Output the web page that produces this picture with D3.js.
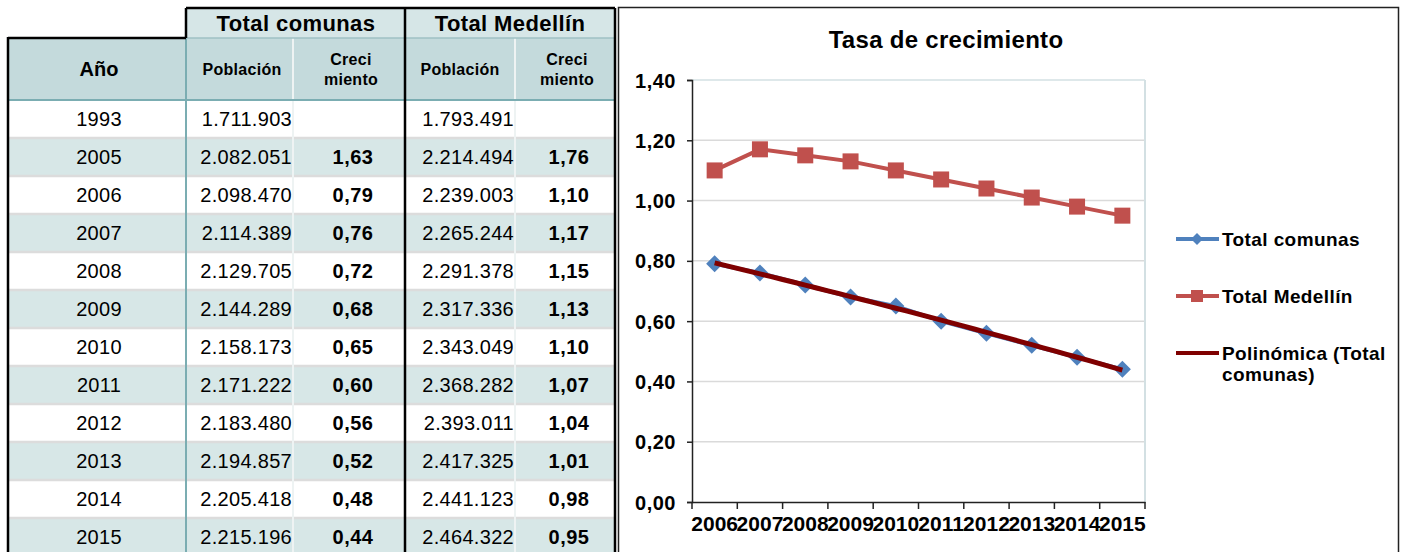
<!DOCTYPE html>
<meta charset="utf-8">
<script src="https://cdn.jsdelivr.net/npm/d3@7"></script>
<style>
body { margin: 0; background: #fff; }
text { font-family: "Liberation Sans", Arial, sans-serif; fill: #000; }
</style>
<body>
<script>

// table data
var tableYears = ["1993", "2005", "2006", "2007", "2008", "2009", "2010", "2011", "2012", "2013", "2014", "2015"];
var popComunas = [1711903, 2082051, 2098470, 2114389, 2129705, 2144289, 2158173, 2171222, 2183480, 2194857, 2205418, 2215196];
var growComunas = [null, 1.63, 0.79, 0.76, 0.72, 0.68, 0.65, 0.60, 0.56, 0.52, 0.48, 0.44];
var popMedellin = [1793491, 2214494, 2239003, 2265244, 2291378, 2317336, 2343049, 2368282, 2393011, 2417325, 2441123, 2464322];
var growMedellin = [null, 1.76, 1.10, 1.17, 1.15, 1.13, 1.10, 1.07, 1.04, 1.01, 0.98, 0.95];

// chart data
var chartYears = ["2006", "2007", "2008", "2009", "2010", "2011", "2012", "2013", "2014", "2015"];
var serieComunas = [0.79, 0.76, 0.72, 0.68, 0.65, 0.60, 0.56, 0.52, 0.48, 0.44];
var serieMedellin = [1.10, 1.17, 1.15, 1.13, 1.10, 1.07, 1.04, 1.01, 0.98, 0.95];
var yTicks = [0, 0.2, 0.4, 0.6, 0.8, 1.0, 1.2, 1.4];
var legendNames = ["Total comunas", "Total Medellín", "Polinómica (Total", "comunas)"];

var width = 1409, height = 552;

var es = d3.formatLocale({decimal: ",", thousands: ".", grouping: [3], currency: ["", ""]});
var fmtPop = es.format(",d"),
    fmtRate = es.format(".2f");

var svg = d3.select("body").append("svg")
    .attr("width", width)
    .attr("height", height);

// ---------- table ----------
var tbl = svg.append("g");
var rowY = d3.scaleBand().domain(tableYears).range([100, 100 + 38 * tableYears.length]);

// header backgrounds
tbl.append("rect").attr("x", 186).attr("y", 8).attr("width", 429).attr("height", 30).attr("fill", "#d6e6e7");
tbl.append("rect").attr("x", 8).attr("y", 38).attr("width", 607).attr("height", 62).attr("fill", "#c4dadc");

// body rows
tbl.selectAll(".row").data(tableYears).enter().append("rect")
    .attr("x", 8)
    .attr("y", function(d) { return rowY(d); })
    .attr("width", 607)
    .attr("height", rowY.bandwidth())
    .attr("fill", function(d, i) { return i % 2 ? "#d7e7e7" : "#fff"; });

tbl.selectAll(".sep").data(tableYears.slice(1)).enter().append("line")
    .attr("x1", 8).attr("x2", 615)
    .attr("y1", function(d) { return rowY(d); })
    .attr("y2", function(d) { return rowY(d); })
    .attr("stroke", "#dcdcdc").attr("stroke-width", 2.5);

// faint inner lines
[293, 515].forEach(function(x) {
  tbl.append("line").attr("x1", x).attr("x2", x).attr("y1", 38).attr("y2", height)
      .attr("stroke", "#eef3f3").attr("stroke-width", 2);
});

// teal lines
tbl.append("line").attr("x1", 186).attr("x2", 186).attr("y1", 38).attr("y2", height)
    .attr("stroke", "#7badb2").attr("stroke-width", 2);
tbl.append("line").attr("x1", 8).attr("x2", 615).attr("y1", 100).attr("y2", 100)
    .attr("stroke", "#7badb2").attr("stroke-width", 2);
tbl.append("line").attr("x1", 186).attr("x2", 615).attr("y1", 38).attr("y2", 38)
    .attr("stroke", "#9fc0c4").attr("stroke-width", 1.5);

// black borders
var blk = [[186, 8, 615, 8], [8, 38, 186, 38], [8, 37, 8, height], [186, 8, 186, 38],
           [405, 8, 405, height], [615, 8, 615, height]];
blk.forEach(function(l) {
  tbl.append("line").attr("x1", l[0]).attr("y1", l[1]).attr("x2", l[2]).attr("y2", l[3])
      .attr("stroke", "#000").attr("stroke-width", 2.5);
});

// header texts
tbl.append("text").attr("x", 296).attr("y", 31).attr("text-anchor", "middle")
    .style("font-size", "22px").style("font-weight", "bold").style("letter-spacing", "0.4px").text("Total comunas");
tbl.append("text").attr("x", 510).attr("y", 31).attr("text-anchor", "middle")
    .style("font-size", "22px").style("font-weight", "bold").style("letter-spacing", "0.4px").text("Total Medellín");
tbl.append("text").attr("x", 99).attr("y", 76).attr("text-anchor", "middle")
    .style("font-size", "20px").style("font-weight", "bold").text("Año");
[[242, "Población"], [460, "Población"]].forEach(function(h) {
  tbl.append("text").attr("x", h[0]).attr("y", 75).attr("text-anchor", "middle")
      .style("font-size", "16px").style("font-weight", "bold").style("letter-spacing", "0.3px").text(h[1]);
});
[351, 567].forEach(function(x) {
  tbl.append("text").attr("x", x).attr("y", 65).attr("text-anchor", "middle")
      .style("font-size", "16px").style("font-weight", "bold").style("letter-spacing", "0.3px").text("Creci");
  tbl.append("text").attr("x", x).attr("y", 85).attr("text-anchor", "middle")
      .style("font-size", "16px").style("font-weight", "bold").style("letter-spacing", "0.3px").text("miento");
});

// body texts
function col(values, x, anchor, bold, fmt) {
  tbl.append("g").selectAll("text").data(values).enter().append("text")
      .attr("x", x)
      .attr("y", function(d, i) { return rowY(tableYears[i]) + rowY.bandwidth() / 2 + 7; })
      .attr("text-anchor", anchor)
      .style("font-size", "20px")
      .style("font-weight", bold ? "bold" : "normal")
      .style("letter-spacing", bold ? "0.5px" : "0.3px")
      .text(function(d) { return d == null ? "" : fmt(d); });
}
col(tableYears, 99, "middle", false, String);
col(popComunas, 292, "end", false, fmtPop);
col(growComunas, 353, "middle", true, fmtRate);
col(popMedellin, 514, "end", false, fmtPop);
col(growMedellin, 569, "middle", true, fmtRate);

// ---------- chart ----------
svg.append("rect")
    .attr("x", 618.5).attr("y", 7.5).attr("width", 780).attr("height", 560)
    .attr("fill", "#fff").attr("stroke", "#222").attr("stroke-width", 1.5);

svg.append("text").attr("x", 946).attr("y", 48).attr("text-anchor", "middle")
    .style("font-size", "24px").style("font-weight", "bold").style("letter-spacing", "0.3px")
    .text("Tasa de crecimiento");

var x = d3.scaleBand().domain(chartYears).range([692, 1145]);
var y = d3.scaleLinear().domain([0, 1.4]).range([502, 80]);

// grid
svg.append("g").selectAll("line").data(yTicks.slice(1)).enter().append("line")
    .attr("x1", 692).attr("x2", 1145)
    .attr("y1", function(d) { return y(d); })
    .attr("y2", function(d) { return y(d); })
    .attr("stroke", function(d) { return d === 1.4 ? "#d3e0e3" : "#dadada"; })
    .attr("stroke-width", 1.5);
svg.append("line").attr("x1", 1145).attr("x2", 1145).attr("y1", 80).attr("y2", 502)
    .attr("stroke", "#d3e0e3").attr("stroke-width", 2);

// y axis
var yAxis = svg.append("g")
    .attr("transform", "translate(692,0)")
    .call(d3.axisLeft(y).tickValues(yTicks).tickFormat(fmtRate).tickSize(5).tickPadding(11));
yAxis.select(".domain").attr("stroke", "#222").attr("stroke-width", 1.5);
yAxis.selectAll(".tick line").attr("stroke", "#222").attr("stroke-width", 1.5);
yAxis.selectAll(".tick text")
    .style("font-size", "20px").style("font-weight", "bold").style("letter-spacing", "0.5px")
    .style("font-family", "'Liberation Sans', Arial, sans-serif").attr("dy", "0.35em");

// x axis
var xAxis = svg.append("g")
    .attr("transform", "translate(0,502)")
    .call(d3.axisBottom(x).tickSize(0).tickPadding(13));
xAxis.select(".domain").attr("stroke", "#222").attr("stroke-width", 1.5);
xAxis.selectAll(".tick text")
    .style("font-size", "21px").style("font-weight", "bold")
    .style("font-family", "'Liberation Sans', Arial, sans-serif").attr("dy", "0.75em");
xAxis.append("g").selectAll("line").data(chartYears.concat(["end"])).enter().append("line")
    .attr("x1", function(d) { return d === "end" ? 1145 : x(d); })
    .attr("x2", function(d) { return d === "end" ? 1145 : x(d); })
    .attr("y1", 0).attr("y2", 7)
    .attr("stroke", "#222").attr("stroke-width", 1.5);

function cx(d, i) { return x(chartYears[i]) + x.bandwidth() / 2; }

var line = d3.line()
    .x(function(d, i) { return cx(d, i); })
    .y(function(d) { return y(d); });

// quadratic trend fitted to Total comunas (least squares)
function polyFit(vals) {
  var S = [0, 0, 0, 0, 0], T = [0, 0, 0];
  vals.forEach(function(v, i) {
    var t = i + 1;
    for (var k = 0; k < 5; k++) S[k] += Math.pow(t, k);
    for (var k = 0; k < 3; k++) T[k] += v * Math.pow(t, k);
  });
  var A = [[S[0], S[1], S[2], T[0]], [S[1], S[2], S[3], T[1]], [S[2], S[3], S[4], T[2]]];
  for (var c = 0; c < 3; c++) {
    for (var r = c + 1; r < 3; r++) {
      var f = A[r][c] / A[c][c];
      for (var k = c; k < 4; k++) A[r][k] -= f * A[c][k];
    }
  }
  var b = [0, 0, 0];
  for (var r = 2; r >= 0; r--) {
    var s = A[r][3];
    for (var k = r + 1; k < 3; k++) s -= A[r][k] * b[k];
    b[r] = s / A[r][r];
  }
  return function(t) { return b[0] + b[1] * t + b[2] * t * t; };
}
var fit = polyFit(serieComunas);
var trend = d3.range(0, 9.01, 0.25).map(function(t) { return {t: t, v: fit(t + 1)}; });
var xt = d3.scaleLinear().domain([0, 9]).range([cx(0, 0), cx(0, 9)]);

var diamond = function(s) { return "M0," + (-s) + "L" + s + ",0L0," + s + "L" + (-s) + ",0Z"; };

// Total comunas
svg.append("path").datum(serieComunas).attr("d", line)
    .attr("fill", "none").attr("stroke", "#4f81bd").attr("stroke-width", 4);
svg.append("g").selectAll("path").data(serieComunas).enter().append("path")
    .attr("transform", function(d, i) { return "translate(" + cx(d, i) + "," + y(d) + ")"; })
    .attr("d", diamond(8.5))
    .attr("fill", "#4f81bd");

// Total Medellin
svg.append("path").datum(serieMedellin).attr("d", line)
    .attr("fill", "none").attr("stroke", "#c0504d").attr("stroke-width", 4);
svg.append("g").selectAll("rect").data(serieMedellin).enter().append("rect")
    .attr("x", function(d, i) { return cx(d, i) - 8; })
    .attr("y", function(d) { return y(d) - 8; })
    .attr("width", 16).attr("height", 16)
    .attr("fill", "#c0504d");

// trend line
svg.append("path").datum(trend)
    .attr("d", d3.line().x(function(d) { return xt(d.t); }).y(function(d) { return y(d.v); }))
    .attr("fill", "none").attr("stroke", "#7f0000").attr("stroke-width", 5);

// legend
var lg = svg.append("g");
var ly = [239, 296, 353];
lg.append("line").attr("x1", 1176).attr("x2", 1219).attr("y1", ly[0]).attr("y2", ly[0])
    .attr("stroke", "#4f81bd").attr("stroke-width", 4);
lg.append("path").attr("transform", "translate(1197," + ly[0] + ")").attr("d", diamond(6)).attr("fill", "#4f81bd");
lg.append("line").attr("x1", 1176).attr("x2", 1219).attr("y1", ly[1]).attr("y2", ly[1])
    .attr("stroke", "#c0504d").attr("stroke-width", 4);
lg.append("rect").attr("x", 1191).attr("y", ly[1] - 6).attr("width", 12).attr("height", 12).attr("fill", "#c0504d");
lg.append("line").attr("x1", 1176).attr("x2", 1219).attr("y1", ly[2]).attr("y2", ly[2])
    .attr("stroke", "#7f0000").attr("stroke-width", 4);

lg.selectAll("text").data(legendNames).enter().append("text")
    .attr("x", 1222)
    .attr("y", function(d, i) { return (i < 3 ? ly[i] : ly[2] + 21) + 7; })
    .style("font-size", "19px").style("font-weight", "bold").style("letter-spacing", "0.4px")
    .text(function(d) { return d; });

</script>
</body>
</html>
